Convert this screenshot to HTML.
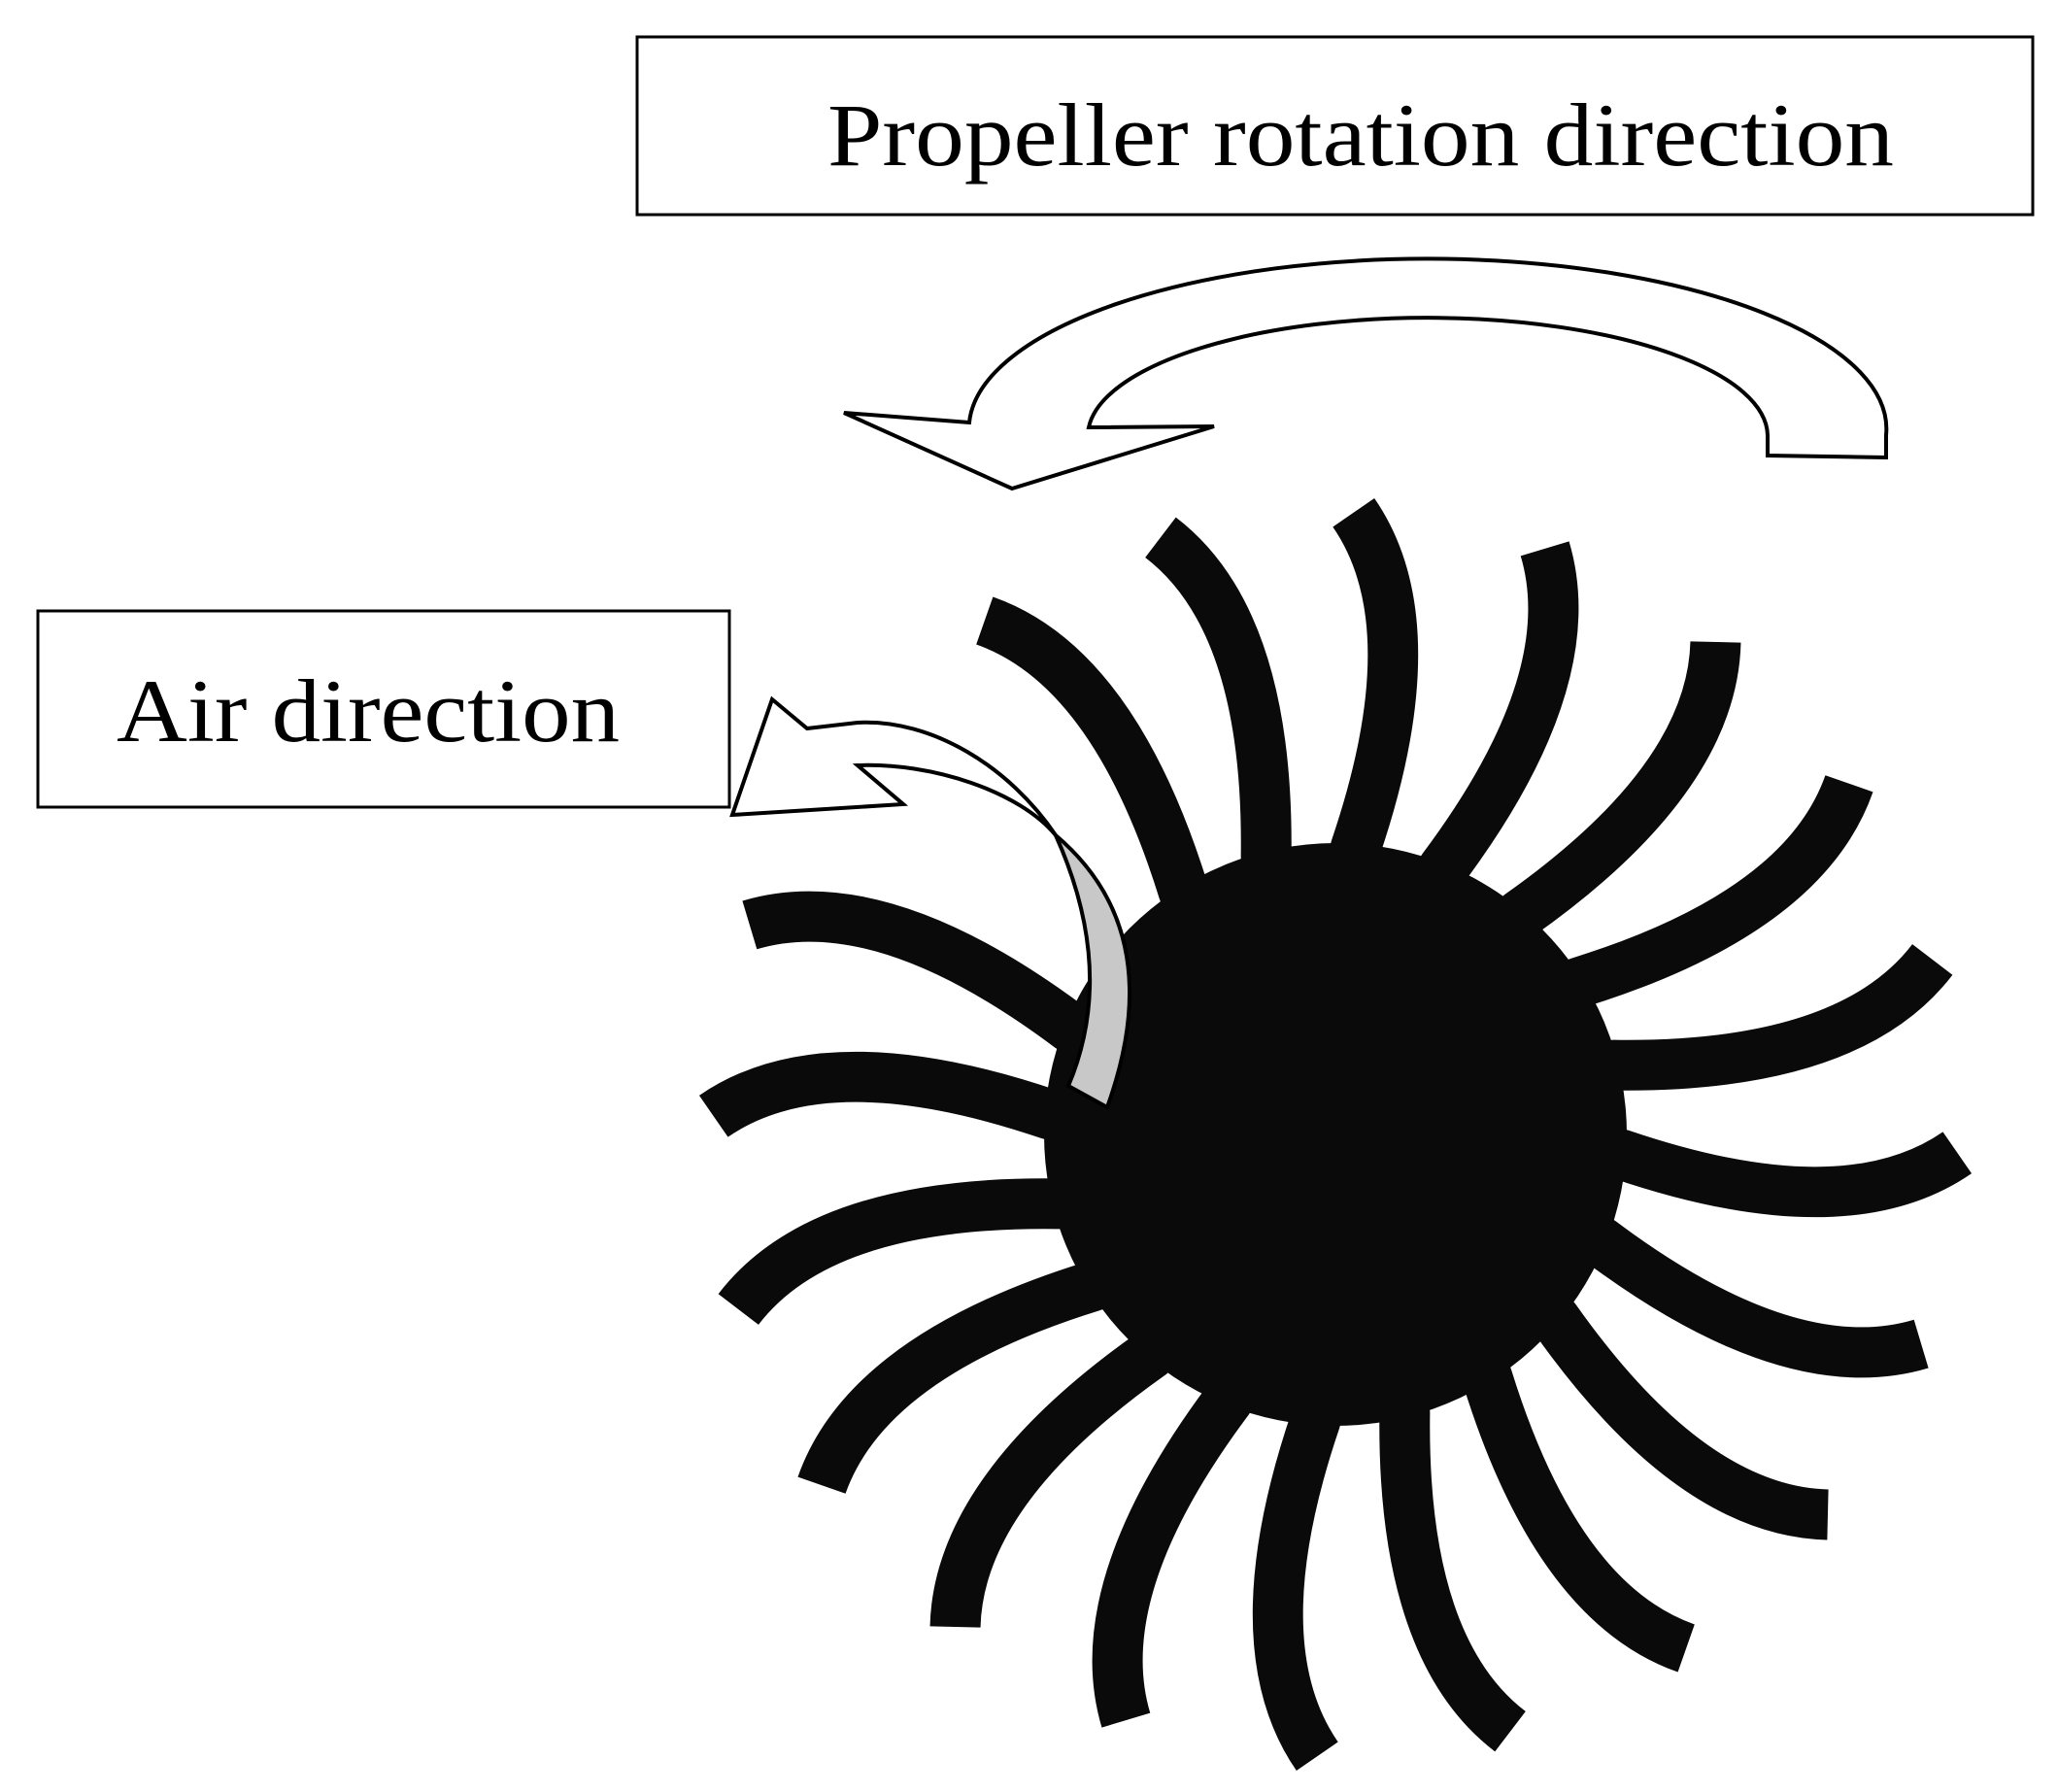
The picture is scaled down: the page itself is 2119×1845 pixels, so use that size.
<!DOCTYPE html>
<html><head><meta charset="utf-8"><style>
html,body{margin:0;padding:0;background:#fff;}
svg{display:block;}
</style></head><body>
<svg width="2119" height="1845" viewBox="0 0 2119 1845" xmlns="http://www.w3.org/2000/svg">
<rect x="0" y="0" width="2119" height="1845" fill="#fff"/>
<rect x="656" y="38" width="1437" height="183" fill="#fff" stroke="#000" stroke-width="3"/>
<text x="852" y="170" font-family="Liberation Serif, serif" font-size="92" textLength="1098" lengthAdjust="spacingAndGlyphs" fill="#000">Propeller rotation direction</text>
<rect x="39" y="629" width="712" height="202" fill="#fff" stroke="#000" stroke-width="3"/>
<text x="120" y="763" font-family="Liberation Serif, serif" font-size="92" textLength="518" lengthAdjust="spacingAndGlyphs" fill="#000">Air direction</text>
<path d="M1942,471 L1820,469 L1820,448 A350,122 0 0 0 1121,440 L1250,439 L1042,503 L869,425 L998,435 A472,175 0 0 1 1942,448 Z" fill="#fff" stroke="#000" stroke-width="4" stroke-linejoin="miter"/>
<defs>
<path id="bl" d="M0,-240 L0,-295 Q62,-530 -26,-640" fill="none" stroke="#0a0a0a" stroke-width="52" stroke-linecap="butt" stroke-linejoin="round"/>
</defs>
<g transform="translate(1375,1168)">
<circle cx="0" cy="0" r="300" fill="#0a0a0a"/>
<use href="#bl" transform="rotate(4)"/>
<use href="#bl" transform="rotate(22)"/>
<use href="#bl" transform="rotate(40)"/>
<use href="#bl" transform="rotate(58)"/>
<use href="#bl" transform="rotate(76)"/>
<use href="#bl" transform="rotate(94)"/>
<use href="#bl" transform="rotate(112)"/>
<use href="#bl" transform="rotate(130)"/>
<use href="#bl" transform="rotate(148)"/>
<use href="#bl" transform="rotate(166)"/>
<use href="#bl" transform="rotate(184)"/>
<use href="#bl" transform="rotate(202)"/>
<use href="#bl" transform="rotate(220)"/>
<use href="#bl" transform="rotate(238)"/>
<use href="#bl" transform="rotate(256)"/>
<use href="#bl" transform="rotate(274)"/>
<use href="#bl" transform="rotate(292)"/>
<use href="#bl" transform="rotate(328)"/>
<use href="#bl" transform="rotate(346)"/>
</g>
<path d="M795,720 L831,750 L883,744 C960,740 1040,790 1087,860 C1050,815 960,785 883,788 L930,828 L754,839 Z" fill="#fff" stroke="#000" stroke-width="4" stroke-linejoin="miter"/>
<path d="M1087,860 Q1205,960 1140,1140 L1100,1118 Q1150,1000 1087,860 Z" fill="#c8c8c8" stroke="#000" stroke-width="4"/>
</svg>
</body></html>
